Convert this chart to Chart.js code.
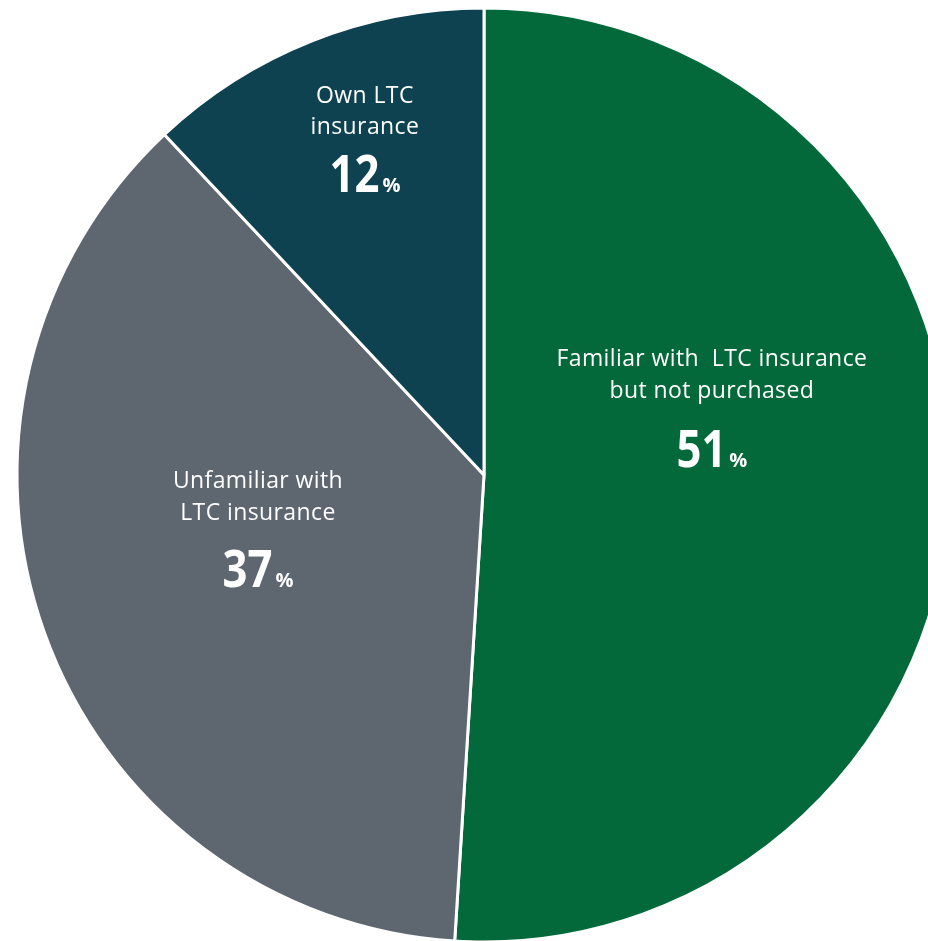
<!DOCTYPE html>
<html>
<head>
<meta charset="utf-8">
<script src="https://cdn.jsdelivr.net/npm/chart.js@4"></script>
<style>
  html, body { margin: 0; padding: 0; background: #ffffff; }
  #marco { width: 928px; height: 941px; overflow: hidden; position: relative; }
  #graficoLTC { position: absolute; left: 0; top: 0; }
</style>
</head>
<body>
<div id="marco">
  <canvas id="graficoLTC" width="968" height="950"></canvas>
</div>
<script>
// Datos de la encuesta (porcentajes)
const categorias = [
    ["Familiar with  LTC insurance", "but not purchased"],
    ["Unfamiliar with", "LTC insurance"],
    ["Own LTC", "insurance"]
];
const valores = [51, 37, 12];
const colores = ["#03693a", "#5e6770", "#0e4250"];

// Posición de cada etiqueta relativa al centro, en fracción del radio
// [dx, dy de la primera línea base, separación hasta la cifra]
const posEtiquetas = [
    [0.488, -0.233, 101],
    [-0.484, 0.028, 99],
    [-0.255, -0.797, 89]
];

const familia = "'Open Sans', 'Noto Sans', sans-serif";

const etiquetasPlugin = {
    id: "etiquetas",
    afterDatasetsDraw(chart) {
        const ctx = chart.ctx;
        const meta = chart.getDatasetMeta(0);
        meta.data.forEach((arco, i) => {
            const r = arco.outerRadius;
            const [fx, fy, salto] = posEtiquetas[i];
            const x = arco.x + fx * r;
            const y = arco.y + fy * r;
            ctx.save();
            ctx.fillStyle = "#ffffff";
            ctx.textAlign = "center";
            ctx.textBaseline = "alphabetic";
            ctx.font = "400 23px " + familia;
            ctx.letterSpacing = "0.4px";
            categorias[i].forEach((linea, j) => {
                ctx.fillText(linea, x, y + j * 31.5);
            });
            ctx.letterSpacing = "0px";

            // cifra grande (algo estrecha) + signo % pequeño
            const cifra = String(valores[i]);
            const estrecho = 0.84;
            ctx.font = "700 52px " + familia;
            const anchoCifra = ctx.measureText(cifra).width * estrecho;
            ctx.font = "700 20px " + familia;
            const anchoPct = ctx.measureText("%").width;
            const inicio = x - (anchoCifra + 3 + anchoPct) / 2;
            ctx.textAlign = "left";
            ctx.save();
            ctx.translate(inicio, y + salto);
            ctx.scale(estrecho, 1);
            ctx.font = "700 52px " + familia;
            ctx.fillText(cifra, 0, 0);
            ctx.restore();
            ctx.font = "700 20px " + familia;
            ctx.fillText("%", inicio + anchoCifra + 3, y + salto);
            ctx.restore();
        });
    }
};

const ctx = document.getElementById("graficoLTC").getContext("2d");
new Chart(ctx, {
    type: "pie",
    data: {
        labels: categorias.map(c => c.join(" ")),
        datasets: [{
            data: valores,
            backgroundColor: colores,
            borderColor: "#ffffff",
            borderWidth: 3,
            radius: 467,
            hoverOffset: 0
        }]
    },
    options: {
        responsive: false,
        animation: false,
        events: [],
        layout: { padding: 8 },
        plugins: {
            legend: { display: false },
            tooltip: { enabled: false }
        }
    },
    plugins: [etiquetasPlugin]
});
</script>
</body>
</html>
